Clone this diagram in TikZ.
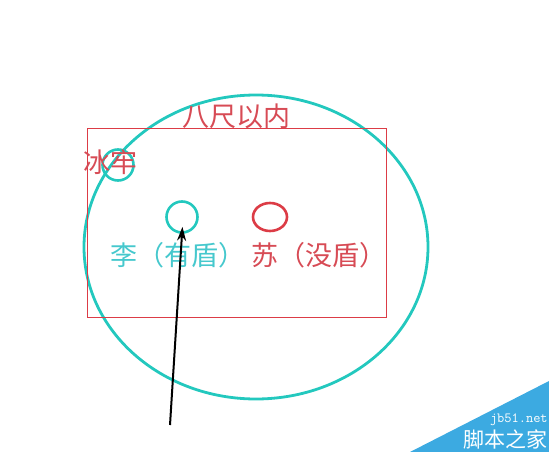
\documentclass[tikz,border=0pt]{standalone}
\usepackage{fontspec}
\newfontfamily\cjk{Noto Sans CJK SC}
\usetikzlibrary{arrows,arrows.meta,shapes.geometric}
\definecolor{ring_cyan}{RGB}{35,200,190}
\definecolor{text_cyan}{RGB}{70,200,205}
\definecolor{edge_red}{RGB}{220,60,70}
\definecolor{text_red}{RGB}{215,75,85}
\definecolor{mark_blue}{RGB}{60,170,225}

\begin{document}
\begin{tikzpicture}[x=1pt,y=-1pt,semithick,>=stealth']
    \tikzstyle{ring}=[draw=ring_cyan, line width=2.6pt, circle, minimum size=31pt, inner sep=0pt, fill=none]
    \tikzstyle{redring}=[style=ring, ellipse, draw=edge_red, minimum width=34pt, minimum height=28pt]
    \tikzstyle{word}=[inner sep=0pt, font=\cjk\fontsize{27}{30}\selectfont]
    \tikzstyle{cyanword}=[style=word, text=text_cyan]
    \tikzstyle{redword}=[style=word, text=text_red]
    \tikzstyle{markword}=[inner sep=0pt, text=white]
    \tikzstyle{pointer}=[-{Stealth[length=14pt,width=9pt]}, line width=2pt, black]

    \useasboundingbox (0,0) rectangle (549,452);

    % range and room
    \draw[ring_cyan, line width=2.8pt] (256,247) ellipse [x radius=172pt, y radius=152pt];
    \draw[edge_red, line width=0.8pt] (87,128) rectangle (386,317);

    \node[redword] (range) at (236,116) {八尺以内};
    \node[ring] (jail) at (118,165) {};
    \node[redword] (jaillabel) at (110,162) {冰牢};

    \node[ring] (li) at (182,217) {};
    \node[redring] (su) at (270,217) {};
    \node[cyanword] (lilabel) at (178,255) {李（有盾）};
    \node[redword] (sulabel) at (319,255) {苏（没盾）};

    \coordinate (tail) at (170,425);
    \draw[pointer, shorten >=-7pt] (tail) -- (li.south);

    % corner mark
    \fill[mark_blue] (410,452) -- (549,381) -- (549,452) -- cycle;
    \node[markword, font=\ttfamily\fontsize{14}{15}\selectfont, anchor=east] (site) at (548,420) {jb51.net};
    \node[markword, font=\cjk\fontsize{21}{23}\selectfont, anchor=east] (brand) at (548,439) {脚本之家};
\end{tikzpicture}
\end{document}
